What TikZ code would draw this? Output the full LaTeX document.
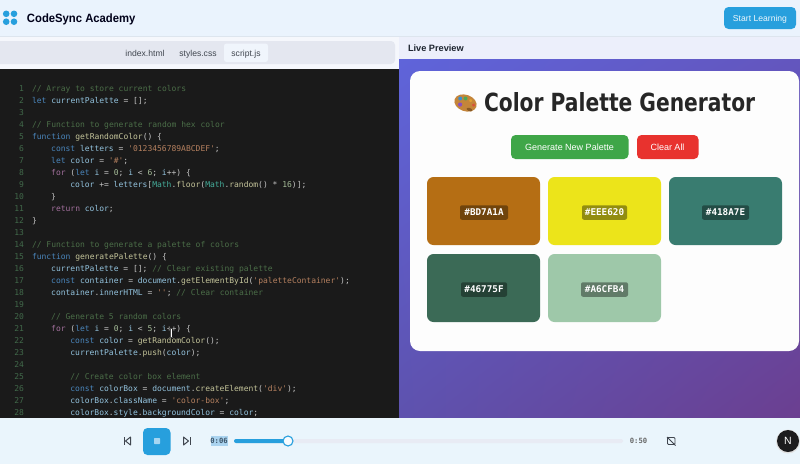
\documentclass[tikz,border=0pt]{standalone}
\usepackage{fontspec}
\usetikzlibrary{shadings}
\setmainfont{Liberation Sans}
\setmonofont{DejaVu Sans Mono}
\newfontfamily\titlefont[FakeStretch=0.81]{DejaVu Sans}
\newfontfamily\brandfont[FakeStretch=0.94]{Liberation Sans}
\definecolor{headbg}{HTML}{EAF3FD}
\definecolor{barbg}{HTML}{EAF5FC}
\definecolor{blueui}{HTML}{279FDD}
\definecolor{inkdark}{HTML}{1E2530}
\definecolor{cmcol}{HTML}{4B6E48}
\definecolor{kwcol}{HTML}{4A86BC}
\definecolor{ctcol}{HTML}{A3709D}
\definecolor{fncol}{HTML}{C4C49A}
\definecolor{vrcol}{HTML}{93C3DE}
\definecolor{stcol}{HTML}{B5805F}
\definecolor{tycol}{HTML}{45AE9B}
\definecolor{nmcol}{HTML}{A5BC98}
\definecolor{plcol}{HTML}{C4C4C4}
\definecolor{lncol}{HTML}{41694A}
\definecolor{tabstrip}{HTML}{F5F7FC}
\definecolor{headline}{HTML}{DDE5EE}
\definecolor{tabtrack}{HTML}{E4E7F0}
\definecolor{tabactive}{HTML}{F0F5FC}
\definecolor{codebg}{HTML}{1A1A1A}
\definecolor{livebg}{HTML}{ECEFFB}
\definecolor{gradul}{HTML}{5F64DA}
\definecolor{gradur}{HTML}{6356BE}
\definecolor{gradll}{HTML}{5E52AE}
\definecolor{gradlr}{HTML}{6B3F90}
\definecolor{cardbg}{HTML}{FDFDFD}
\definecolor{palwood}{HTML}{C4853A}
\definecolor{palhole}{HTML}{8A5A24}
\definecolor{palblue}{HTML}{3C8FD0}
\definecolor{palgreen}{HTML}{4AA85A}
\definecolor{palyellow}{HTML}{E0A030}
\definecolor{palred}{HTML}{D8503A}
\definecolor{palpurple}{HTML}{8A4FC0}
\definecolor{btngreen}{HTML}{3FA648}
\definecolor{btnred}{HTML}{E8322E}
\definecolor{swa}{HTML}{B56E14}
\definecolor{swb}{HTML}{ECE41A}
\definecolor{swc}{HTML}{397C70}
\definecolor{swd}{HTML}{3B6A56}
\definecolor{swe}{HTML}{9EC8A9}
\definecolor{stopglyph}{HTML}{A6D6F2}
\definecolor{selbg}{HTML}{AAD3EF}
\definecolor{seltext}{HTML}{3C5468}
\definecolor{tracklt}{HTML}{E8EBF4}
\definecolor{badge}{HTML}{1C1C1E}
\newcommand{\cm}[1]{\textcolor{cmcol}{#1}}
\newcommand{\kw}[1]{\textcolor{kwcol}{#1}}
\newcommand{\ct}[1]{\textcolor{ctcol}{#1}}
\newcommand{\fn}[1]{\textcolor{fncol}{#1}}
\newcommand{\vr}[1]{\textcolor{vrcol}{#1}}
\newcommand{\stv}[1]{\textcolor{stcol}{#1}}
\newcommand{\ty}[1]{\textcolor{tycol}{#1}}
\newcommand{\nm}[1]{\textcolor{nmcol}{#1}}
\newcommand{\codeln}[3]{%
  \node[codetext] (code#1) at ({32+4.8*#2},{79.5+12*#1}) {#3};%
  \node[linenum] (num#1) at (24,{79.5+12*#1}) {#1};}
\newcommand{\numln}[1]{\node[linenum] (num#1) at (24,{79.5+12*#1}) {#1};}
\tikzset{
  x=1pt,y=-1pt,
  every node/.style={inner sep=0pt,outer sep=0pt},
  codetext/.style={anchor=base west,text=plcol,font=\ttfamily\frenchspacing\fontsize{8}{8}\selectfont},
  linenum/.style={anchor=base east,text=lncol,font=\ttfamily\fontsize{8}{8}\selectfont},
  tabtext/.style={anchor=base,text=inkdark!85,font=\fontsize{8.6}{9}\selectfont},
  swatch/.style={rounded corners=6.5pt},
  hexbox/.style={fill=black,fill opacity=0.38,text opacity=1,text=white,rounded corners=2pt,minimum height=14.5pt,font=\ttfamily\bfseries\fontsize{9.3}{10}\selectfont,text width=#1,align=center},
  uibtn/.style={rounded corners=4.5pt},
  btntext/.style={anchor=base,text=white,font=\fontsize{9}{10}\selectfont},
  icon/.style={draw=inkdark!85,line width=1pt,line join=round},
  dot/.style={fill=blueui}
}
\begin{document}
\begin{tikzpicture}
\useasboundingbox (0,0) rectangle (800,464);
% backgrounds
\fill[headbg] (0,0) rectangle (800,36);
\fill[tabstrip] (0,36) rectangle (399,69);
\draw[headline,line width=0.8pt] (0,36.5) -- (800,36.5);
\fill[tabtrack,rounded corners=4pt] (-6,41) rectangle (395,64);
\fill[tabactive,rounded corners=2.5pt] (224,43.5) rectangle (268,62);
\fill[codebg] (0,68.5) rectangle (399,418);
\fill[livebg] (399,37) rectangle (800,59);
\shade[upper left=gradul,upper right=gradur,lower left=gradll,lower right=gradlr] (399,59) rectangle (800,418);
\fill[cardbg,rounded corners=10pt] (410,71) rectangle (799,351);
\fill[barbg] (0,418) rectangle (800,464);
% logo
\fill[dot] (6.2,13.8) circle (3.3);
\fill[dot] (14,13.8) circle (3.3);
\fill[dot] (6.2,21.7) circle (3.3);
\fill[dot] (14,21.7) circle (3.3);
\node[anchor=base west,text=black!90!blue,font=\brandfont\bfseries\fontsize{12}{13}\selectfont] (brand) at (27,22.5) {CodeSync Academy};
\fill[blueui,uibtn] (724,7) rectangle (796,29);
\node[anchor=base,text=white!92!blueui,font=\fontsize{8.6}{9}\selectfont] (start) at (760,21) {Start Learning};
% tabs
\node[tabtext] (tab1) at (145,56) {index.html};
\node[tabtext] (tab2) at (198,56) {styles.css};
\node[tabtext] (tab3) at (246,56) {script.js};
\node[anchor=base west,text=inkdark,font=\bfseries\fontsize{9.2}{10}\selectfont] (live) at (408,51) {Live Preview};
% code
\codeln{1}{0}{\cm{// Array to store current colors}}
\codeln{2}{0}{\kw{let} \vr{currentPalette} = [];}
\numln{3}
\codeln{4}{0}{\cm{// Function to generate random hex color}}
\codeln{5}{0}{\kw{function} \fn{getRandomColor}() \{}
\codeln{6}{4}{\kw{const} \vr{letters} = \stv{'0123456789ABCDEF'};}
\codeln{7}{4}{\kw{let} \vr{color} = \stv{'\#'};}
\codeln{8}{4}{\ct{for} (\kw{let} \vr{i} = \nm{0}; \vr{i} < \nm{6}; \vr{i}++) \{}
\codeln{9}{8}{\vr{color} += \vr{letters}[\ty{Math}.\fn{floor}(\ty{Math}.\fn{random}() * \nm{16})];}
\codeln{10}{4}{\}}
\codeln{11}{4}{\ct{return} \vr{color};}
\codeln{12}{0}{\}}
\numln{13}
\codeln{14}{0}{\cm{// Function to generate a palette of colors}}
\codeln{15}{0}{\kw{function} \fn{generatePalette}() \{}
\codeln{16}{4}{\vr{currentPalette} = []; \cm{// Clear existing palette}}
\codeln{17}{4}{\kw{const} \vr{container} = \vr{document}.\fn{getElementById}(\stv{'paletteContainer'});}
\codeln{18}{4}{\vr{container}.\vr{innerHTML} = \stv{''}; \cm{// Clear container}}
\numln{19}
\codeln{20}{4}{\cm{// Generate 5 random colors}}
\codeln{21}{4}{\ct{for} (\kw{let} \vr{i} = \nm{0}; \vr{i} < \nm{5}; \vr{i}++) \{}
\codeln{22}{8}{\kw{const} \vr{color} = \fn{getRandomColor}();}
\codeln{23}{8}{\vr{currentPalette}.\fn{push}(\vr{color});}
\numln{24}
\codeln{25}{8}{\cm{// Create color box element}}
\codeln{26}{8}{\kw{const} \vr{colorBox} = \vr{document}.\fn{createElement}(\stv{'div'});}
\codeln{27}{8}{\vr{colorBox}.\vr{className} = \stv{'color-box'};}
\codeln{28}{8}{\vr{colorBox}.\vr{style}.\vr{backgroundColor} = \vr{color};}
% text cursor
\draw[white,line width=1.8pt] (170.8,329) -- (170.8,337);
\draw[black!70,line width=0.9pt] (169,328.5) -- (172.6,328.5) (170.8,328.5) -- (170.8,337.5) (169,337.5) -- (172.6,337.5);
% palette emoji
\begin{scope}[shift={(465.5,103)},rotate=-20]
\fill[palwood] (0,0) ellipse (11.5 and 8.2);
\fill[palhole] (6,4.8) ellipse (3 and 1.6);
\fill[palblue] (-6.5,-2.5) circle (2);
\fill[palgreen] (-1.5,-4.3) circle (2);
\fill[palyellow] (4,-4) circle (1.7);
\fill[palred] (8.3,-0.8) circle (1.7);
\fill[palpurple] (-4.5,3.3) circle (2.1);
\end{scope}
\node[anchor=base west,text=black!85,font=\titlefont\bfseries\fontsize{25}{26}\selectfont] (title) at (484,111.5) {Color Palette Generator};
% buttons
\fill[btngreen,uibtn] (511,135) rectangle (628.5,159);
\node[btntext] (gen) at (569.5,150.5) {Generate New Palette};
\fill[btnred,uibtn] (637,135) rectangle (698.5,159);
\node[btntext] (clr) at (667.5,150.5) {Clear All};
% swatches
\fill[swa,swatch] (427,177) rectangle (540,245);
\fill[swb,swatch] (548,177) rectangle (661,245);
\fill[swc,swatch] (669,177) rectangle (782,245);
\fill[swd,swatch] (427,254) rectangle (540,322);
\fill[swe,swatch] (548,254) rectangle (661,322);
\node[hexbox=48pt] (hex1) at (484,212.5) {\#BD7A1A};
\node[hexbox=45pt] (hex2) at (604.5,212.5) {\#EEE620};
\node[hexbox=47pt] (hex3) at (725.5,212.5) {\#418A7E};
\node[hexbox=46pt] (hex4) at (484,289.5) {\#46775F};
\node[hexbox=47pt] (hex5) at (604.5,289.5) {\#A6CFB4};
% player
\draw[icon] (124,437) -- (124,445);
\draw[icon] (130.5,437) -- (125.5,441) -- (130.5,445) -- cycle;
\fill[blueui,uibtn] (143,428) rectangle (170.5,455);
\fill[stopglyph,rounded corners=0.7pt] (154,438) rectangle (160,444);
\draw[icon] (183.5,437) -- (188.5,441) -- (183.5,445) -- cycle;
\draw[icon] (190,437) -- (190,445);
\fill[selbg] (210.5,436) rectangle (227.5,446);
\node[text=seltext,font=\ttfamily\bfseries\fontsize{7.2}{8}\selectfont] (tcur) at (219,441) {0:06};
\fill[tracklt,rounded corners=2pt] (234,439) rectangle (623,443);
\fill[blueui,rounded corners=2pt] (234,439) rectangle (288,443);
\draw[blueui,fill=barbg!40!white,line width=1.1pt] (288,441) circle (5);
\node[text=black!60,font=\ttfamily\bfseries\fontsize{7.2}{8}\selectfont] (tend) at (638.5,441) {0:50};
\draw[icon,rounded corners=1pt,line width=0.8pt] (667.5,437.5) rectangle (675,444.5);
\draw[icon,line width=0.9pt] (667,437) -- (675.5,445.5);
% badge
\fill[black!12] (788,441.5) circle (12);
\fill[badge] (788,441) circle (11);
\node[text=white,font=\fontsize{10.5}{11}\selectfont] (nbadge) at (788,441.2) {N};
\end{tikzpicture}
\end{document}
